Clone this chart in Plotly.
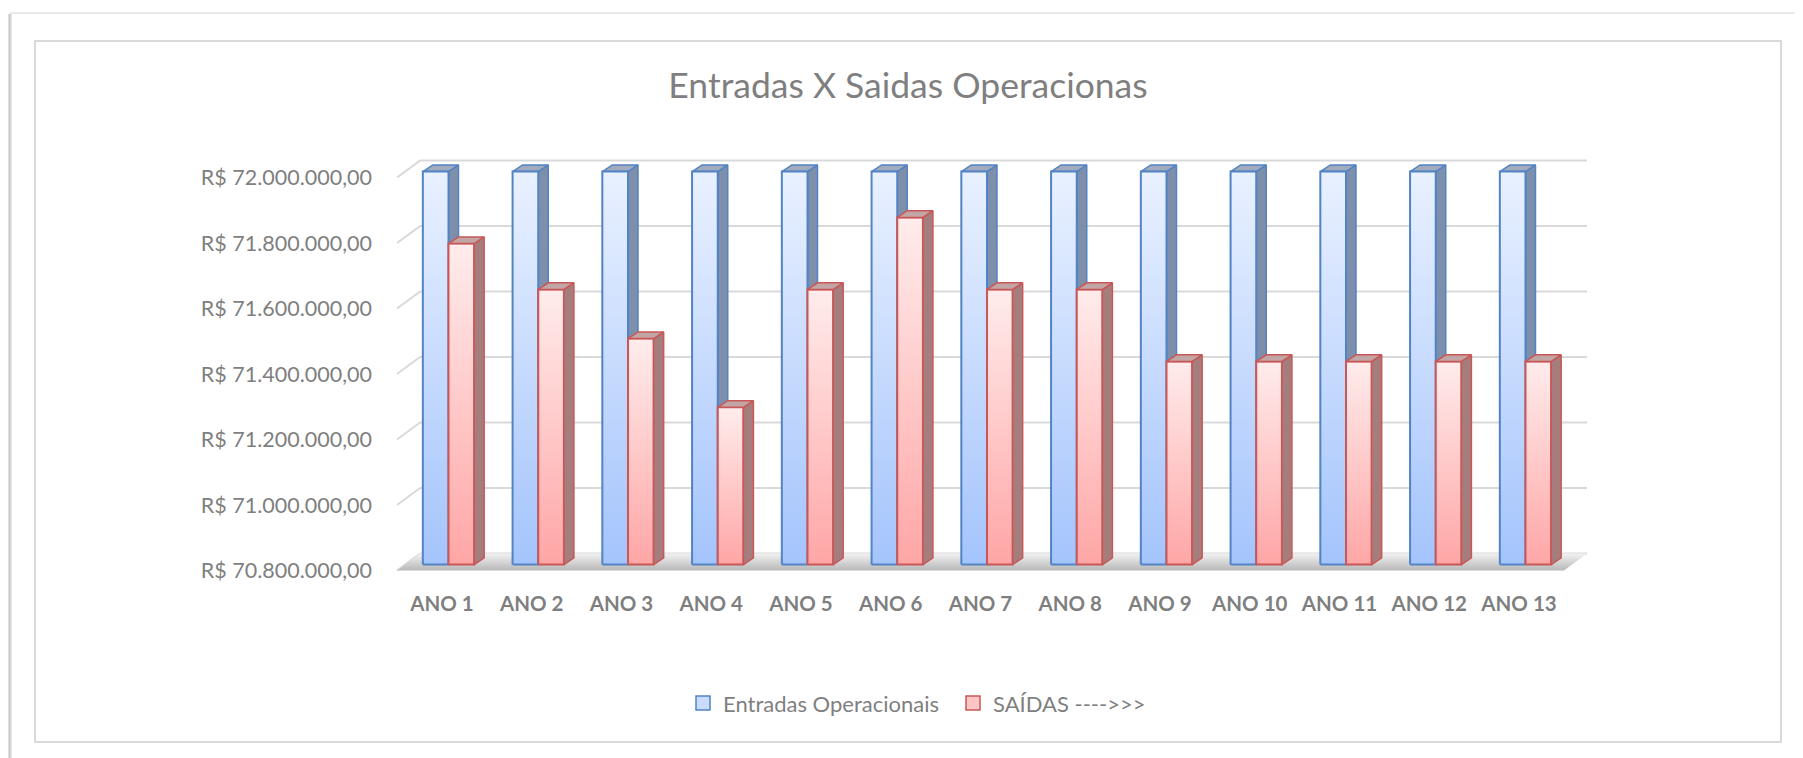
import plotly.graph_objects as go

# ---------------- data ----------------
categories = ["ANO 1", "ANO 2", "ANO 3", "ANO 4", "ANO 5", "ANO 6", "ANO 7",
              "ANO 8", "ANO 9", "ANO 10", "ANO 11", "ANO 12", "ANO 13"]
entradas = [72000000, 72000000, 72000000, 72000000, 72000000, 72000000, 72000000,
            72000000, 72000000, 72000000, 72000000, 72000000, 72000000]
saidas = [71780000, 71640000, 71490000, 71280000, 71640000, 71860000, 71640000,
          71640000, 71420000, 71420000, 71420000, 71420000, 71420000]
tick_values = [70800000, 71000000, 71200000, 71400000, 71600000, 71800000, 72000000]
tick_labels = ["R$ 70.800.000,00", "R$ 71.000.000,00", "R$ 71.200.000,00",
               "R$ 71.400.000,00", "R$ 71.600.000,00", "R$ 71.800.000,00",
               "R$ 72.000.000,00"]
series_names = ["Entradas Operacionais", "SAÍDAS ---->>>"]
title_text = "Entradas X Saidas Operacionas"

# ---------------- style / geometry ----------------
OFF = 8                              # page body margin
W, H = 1803 - OFF, 758 - OFF
FONT = "Lato"
TXT = "#7f7f7f"
PX_CAT = 89.75                      # pixels per category
PX_PER_UNIT = 394 / 1.2e6           # pixels per R$ on the front plane
FRONT_BASE_PX = 566                 # screen row of the axis base on the front plane
X0_PX = 448.5                       # screen column of first category centre
BAR_W = 0.286                       # bar width in category units
DEPTH_X = 10 / PX_CAT               # 3-D depth (x) in category units
DEPTH_Y = 6.7 / PX_PER_UNIT         # 3-D depth (y) in value units
BACK_SHIFT = 11 / PX_PER_UNIT       # back wall offset
LABEL_SHIFT = 6 / PX_PER_UNIT       # tick label offset
base = tick_values[0]
top = tick_values[-1]

y_lo = base - 0.05e6
y_hi = top + 0.10e6
x_lo, x_hi = -0.75, 12.75


def sx(px):   # screen px -> paper x
    return (px - OFF) / W


def sy(py):   # screen px -> paper y
    return 1 - (py - OFF) / H


def px_x(v):
    return sx(X0_PX + v * PX_CAT)


def py_y(v):
    return sy(FRONT_BASE_PX - (v - base) * PX_PER_UNIT)


def xdata(px):
    return (px - X0_PX) / PX_CAT


colors = {
    0: dict(line="#5283c4", grad=[[0, "#a4c4fc"], [1, "#e9f1ff"]],
            side="#7e8fab", top="#a1abbd"),
    1: dict(line="#c95757", grad=[[0, "#ffa6a6"], [1, "#ffecec"]],
            side="#a67d7d", top="#c2a5a5"),
}

fig = go.Figure()

# floor
fx = [xdata(397), xdata(1564), xdata(1587), xdata(420), xdata(397)]
fy = [base - LABEL_SHIFT, base - LABEL_SHIFT, base + BACK_SHIFT, base + BACK_SHIFT, base - LABEL_SHIFT]
fig.add_trace(go.Scatter(x=fx, y=fy, mode="lines", fill="toself", line=dict(width=0, color="rgba(0,0,0,0)"),
                         fillgradient=dict(type="vertical", colorscale=[[0, "#b8b8b8"], [1, "#f2f2f2"]]),
                         hoverinfo="skip", showlegend=False))


def faces(values, s):
    sxs, sys_, tx, ty = [], [], [], []
    for i, v in enumerate(values):
        xl = i - BAR_W if s == 0 else i
        xr = xl + BAR_W
        sxs += [xr, xr, xr + DEPTH_X, xr + DEPTH_X, xr, None]
        sys_ += [base, v, v + DEPTH_Y, base + DEPTH_Y, base, None]
        tx += [xl, xr, xr + DEPTH_X, xl + DEPTH_X, xl, None]
        ty += [v, v, v + DEPTH_Y, v + DEPTH_Y, v, None]
    return sxs, sys_, tx, ty


def add_side_top(values, s):
    c = colors[s]
    a, b, tx, ty = faces(values, s)
    fig.add_trace(go.Scatter(x=a, y=b, mode="lines", fill="toself", fillcolor=c["side"],
                             line=dict(color=c["line"], width=1.5), hoverinfo="skip", showlegend=False))
    fig.add_trace(go.Scatter(x=tx, y=ty, mode="lines", fill="toself", fillcolor=c["top"],
                             line=dict(color=c["line"], width=1.5), hoverinfo="skip", showlegend=False))


def add_fronts(values, s):
    c = colors[s]
    for i, v in enumerate(values):
        xl = i - BAR_W if s == 0 else i
        xr = xl + BAR_W
        fig.add_trace(go.Scatter(
            x=[xl, xr, xr, xl, xl], y=[base, base, v, v, base], mode="lines", fill="toself",
            fillgradient=dict(type="vertical", colorscale=c["grad"]),
            line=dict(color=c["line"], width=2), name=series_names[s],
            hovertemplate=categories[i] + ": %{y:,.0f}<extra></extra>", showlegend=False))


add_side_top(entradas, 0)
add_fronts(entradas, 0)
add_fronts(saidas, 1)
add_side_top(saidas, 1)

# legend entries
legend_fill = {0: "#c9dcff", 1: "#ffc4c4"}
for s in (0, 1):
    fig.add_trace(go.Scatter(x=[None], y=[None], mode="markers", name=series_names[s],
                             marker=dict(symbol="square", size=14, color=legend_fill[s],
                                         line=dict(color=colors[s]["line"], width=1.5))))

# axis for tick labels
fig.add_trace(go.Scatter(x=[None], y=[None], yaxis="y2", showlegend=False, hoverinfo="skip"))

shapes = []
# outer frame with shadow
shapes.append(dict(type="rect", xref="paper", yref="paper", x0=sx(7), x1=sx(12), y0=-0.02, y1=sy(14),
                   line=dict(width=0), fillcolor="#e2e2e2", layer="below"))
shapes.append(dict(type="rect", xref="paper", yref="paper", x0=sx(9), x1=sx(11), y0=-0.02, y1=sy(14),
                   line=dict(width=0), fillcolor="#c4c4c4", layer="below"))
shapes.append(dict(type="rect", xref="paper", yref="paper", x0=sx(11), x1=sx(1801.5), y0=-0.02, y1=sy(13),
                   line=dict(color="#e3e3e3", width=1.5), fillcolor="rgba(0,0,0,0)", layer="below"))
# inner chart border
shapes.append(dict(type="rect", xref="paper", yref="paper", x0=sx(35), x1=sx(1781), y0=sy(744), y1=sy(41),
                   line=dict(color="#d9d9d9", width=2), fillcolor="rgba(0,0,0,0)", layer="below"))
# grid lines (back wall + left wall)
for v in tick_values:
    shapes.append(dict(type="line", xref="x", yref="y", x0=xdata(420), x1=xdata(1587),
                       y0=v + BACK_SHIFT, y1=v + BACK_SHIFT, line=dict(color="#d9d9d9", width=2), layer="below"))
    shapes.append(dict(type="line", xref="x", yref="y", x0=xdata(397), x1=xdata(420),
                       y0=v - LABEL_SHIFT, y1=v + BACK_SHIFT, line=dict(color="#d9d9d9", width=2), layer="below"))

fig.update_layout(
    width=W, height=H,
    margin=dict(l=0, r=0, t=0, b=0),
    paper_bgcolor="white", plot_bgcolor="rgba(0,0,0,0)",
    font=dict(family=FONT, color=TXT),
    title=dict(text=title_text, x=sx(908), y=sy(86), xanchor="center", yanchor="middle",
               font=dict(family=FONT, size=35.5, color=TXT)),
    xaxis=dict(domain=[px_x(x_lo), px_x(x_hi)], range=[x_lo, x_hi],
               tickvals=[i - 6.5 / PX_CAT for i in range(len(categories))], ticktext=categories,
               tickfont=dict(family=FONT, size=20.5, color=TXT, weight="bold"),
               ticks="outside", ticklen=5, tickcolor="rgba(0,0,0,0)",
               showgrid=False, zeroline=False, showline=False, fixedrange=True),
    yaxis=dict(domain=[py_y(y_lo), py_y(y_hi)], range=[y_lo, y_hi], visible=False, fixedrange=True),
    yaxis2=dict(overlaying="y", anchor="free", position=sx(372), side="left",
                range=[y_lo + LABEL_SHIFT, y_hi + LABEL_SHIFT],
                tickvals=tick_values, ticktext=tick_labels, ticks="",
                tickfont=dict(family=FONT, size=21.5, color=TXT),
                showgrid=False, zeroline=False, showline=False, fixedrange=True),
    legend=dict(orientation="h", x=sx(683), y=sy(705), xanchor="left", yanchor="middle",
                entrywidth=225,
                font=dict(family=FONT, size=22, color=TXT), bgcolor="rgba(0,0,0,0)"),
    shapes=shapes,
    showlegend=True,
)

fig.write_html("out.html")
